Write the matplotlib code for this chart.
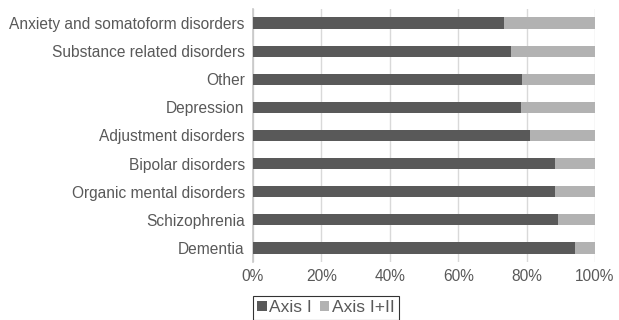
import matplotlib
matplotlib.use("Agg")
import matplotlib.pyplot as plt
import numpy as np

plt.rcParams['font.family'] = ['Liberation Sans', 'DejaVu Sans']

categories = ['Anxiety and somatoform disorders', 'Substance related disorders', 'Other',
              'Depression', 'Adjustment disorders', 'Bipolar disorders',
              'Organic mental disorders', 'Schizophrenia', 'Dementia']
axis_1 = [73.4, 75.4, 78.8, 78.3, 81.0, 88.2, 88.2, 89.1, 94.2]
axis_1_2 = [100 - v for v in axis_1]
ticks = [0, 20, 40, 60, 80, 100]
tick_labels = ['0%', '20%', '40%', '60%', '80%', '100%']

dark = '#595959'
light = '#b2b2b2'
text_col = '#595959'

fig = plt.figure(figsize=(6.19, 3.20), dpi=100)
ax = fig.add_axes([253 / 619, 1 - 262 / 320, 342 / 619, 253 / 320])

y = np.arange(len(categories))
ax.barh(y, axis_1, height=0.4, color=dark, label='Axis I', zorder=3)
ax.barh(y, axis_1_2, left=axis_1, height=0.4, color=light, label='Axis I+II', zorder=3)

ax.set_ylim(len(categories) - 0.5, -0.5)
ax.set_xlim(0, 100)
ax.set_yticks(y)
ax.set_yticklabels(categories, color=text_col, fontsize=11.2)
ax.set_xticks(ticks)
ax.set_xticklabels(tick_labels, color=text_col, fontsize=11.2)
ax.tick_params(axis='both', length=0)
ax.tick_params(axis='y', pad=6)
ax.tick_params(axis='x', pad=5)
ax.grid(axis='x', color='#d9d9d9', linewidth=1, zorder=0)
for s in ['top', 'right', 'bottom']:
    ax.spines[s].set_visible(False)
ax.spines['left'].set_color('#c8c8c8')
ax.spines['left'].set_linewidth(1.2)

# legend box runs off the bottom edge like in the original
leg = fig.legend(loc='upper center', bbox_to_anchor=(326 / 619, 1 - 296 / 320), ncol=2,
                 frameon=True, fancybox=False, edgecolor='black', fontsize=12.5,
                 handlelength=0.55, handleheight=0.55, handletextpad=0.15,
                 columnspacing=0.45, borderpad=0.25, borderaxespad=0.0)
for t in leg.get_texts():
    t.set_color(text_col)
leg.get_frame().set_linewidth(0.8)

fig.savefig('out.png', dpi=100)
